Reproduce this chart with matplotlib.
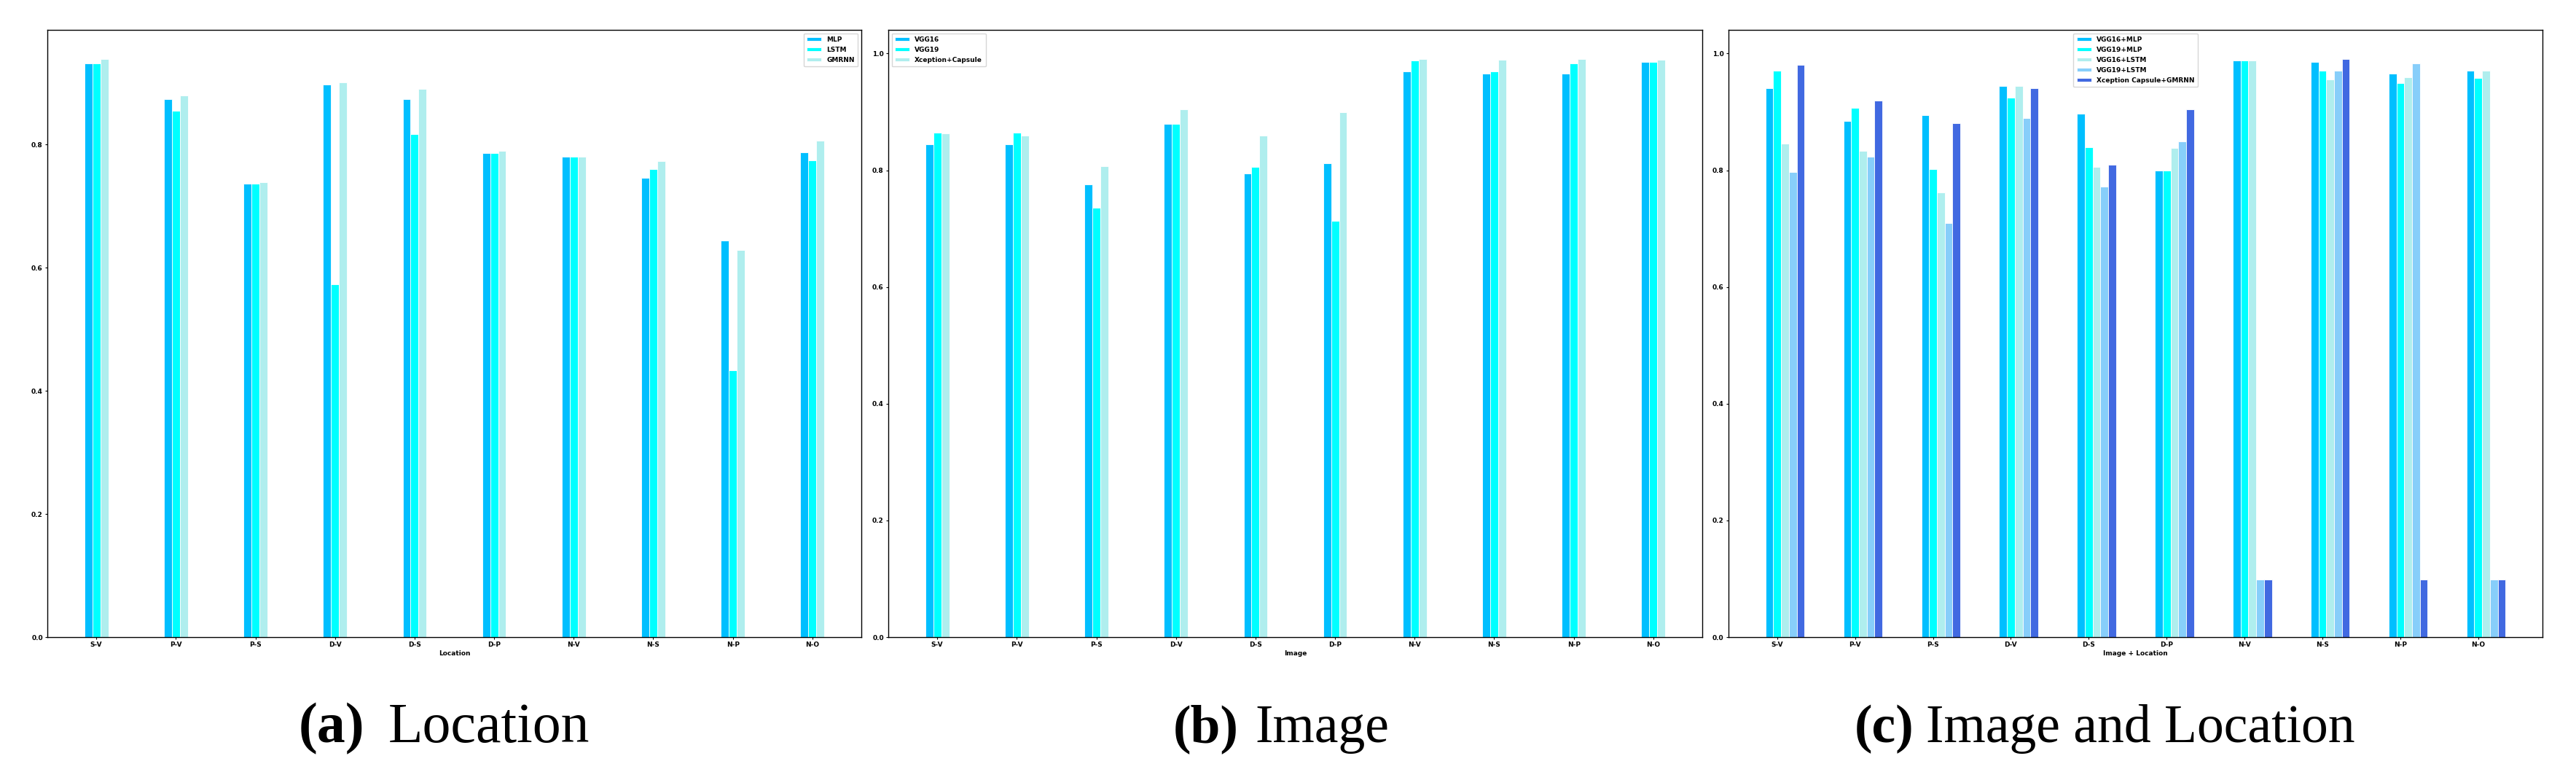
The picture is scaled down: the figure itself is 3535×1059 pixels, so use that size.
import matplotlib.pyplot as plt
import numpy as np

# pair labels shared by all three panels
pairs = ['S-V', 'P-V', 'P-S', 'D-V', 'D-S', 'D-P', 'N-V', 'N-S', 'N-P', 'N-O']

# (a) location only
loc_names = ['MLP', 'LSTM', 'GMRNN']
loc_mlp = [0.932, 0.873, 0.736, 0.897, 0.873, 0.786, 0.780, 0.746, 0.644, 0.787]
loc_lstm = [0.932, 0.854, 0.736, 0.573, 0.817, 0.786, 0.780, 0.760, 0.433, 0.774]
loc_gmrnn = [0.939, 0.880, 0.739, 0.901, 0.890, 0.790, 0.780, 0.773, 0.629, 0.806]

# (b) image only
img_names = ['VGG16', 'VGG19', 'Xception+Capsule']
img_vgg16 = [0.845, 0.844, 0.776, 0.879, 0.795, 0.812, 0.969, 0.966, 0.966, 0.985]
img_vgg19 = [0.865, 0.864, 0.736, 0.879, 0.806, 0.713, 0.988, 0.969, 0.983, 0.985]
img_xcap = [0.863, 0.860, 0.807, 0.904, 0.860, 0.900, 0.991, 0.989, 0.990, 0.989]

# (c) image + location
both_names = ['VGG16+MLP', 'VGG19+MLP', 'VGG16+LSTM', 'VGG19+LSTM', 'Xception Capsule+GMRNN']
both_vgg16_mlp = [0.941, 0.885, 0.894, 0.944, 0.897, 0.800, 0.988, 0.985, 0.966, 0.971]
both_vgg19_mlp = [0.971, 0.907, 0.802, 0.925, 0.840, 0.800, 0.988, 0.971, 0.949, 0.958]
both_vgg16_lstm = [0.846, 0.833, 0.762, 0.944, 0.806, 0.838, 0.988, 0.955, 0.959, 0.971]
both_vgg19_lstm = [0.797, 0.823, 0.710, 0.889, 0.772, 0.850, 0.099, 0.971, 0.983, 0.099]
both_xcap_gmrnn = [0.980, 0.920, 0.881, 0.940, 0.810, 0.905, 0.099, 0.991, 0.099, 0.099]

colors = ['deepskyblue', 'aqua', 'paleturquoise', 'lightskyblue', 'royalblue']

W, H = 3535, 1059
fig = plt.figure(figsize=(W / 100, H / 100), dpi=100)
plt.rcParams['font.family'] = 'DejaVu Sans'


def draw_panel(left_px, series, names, xlabel, legend_loc):
    ax = fig.add_axes([left_px / W, (H - 874) / H, 1117 / W, 833 / H])
    x = np.arange(len(pairs))
    width = 0.1
    for i, (vals, name) in enumerate(zip(series, names)):
        ax.bar(x + (i - 1) * width, vals, width, color=colors[i], label=name,
               edgecolor='white', linewidth=0.6)
    ax.set_xticks(x)
    ax.set_xticklabels(pairs)
    ax.set_xlabel(xlabel, fontsize=6.5, fontweight='bold', labelpad=2)
    ax.tick_params(labelsize=6.5, length=2.5, pad=2, width=0.8)
    for lab in ax.get_xticklabels() + ax.get_yticklabels():
        lab.set_fontweight('bold')
    for s in ax.spines.values():
        s.set_linewidth(1.0)
    ax.legend(loc=legend_loc, prop={'size': 6.5, 'weight': 'bold'},
              handlelength=2.2, handleheight=0.5, labelspacing=0.55,
              borderpad=0.5, framealpha=0.8)
    return ax


draw_panel(65, [loc_mlp, loc_lstm, loc_gmrnn], loc_names, 'Location', 'upper right')
draw_panel(1219, [img_vgg16, img_vgg19, img_xcap], img_names, 'Image', 'upper left')
draw_panel(2372, [both_vgg16_mlp, both_vgg19_mlp, both_vgg16_lstm, both_vgg19_lstm,
                  both_xcap_gmrnn], both_names, 'Image + Location', 'upper center')

# subfigure captions: bold tag, then the plain title
y_cap = (H - 1018) / H
captions = [
    ('(a)', 'Location', 410, 533, 56),
    ('(b)', 'Image', 1610, 1722, 53),
    ('(c)', 'Image and Location', 2545, 2643, 53),
]
for tag, title, x_tag, x_title, size in captions:
    fig.text(x_tag / W, y_cap, tag, fontsize=size, fontweight='bold',
             family='Liberation Serif', ha='left', va='baseline')
    fig.text(x_title / W, y_cap, title, fontsize=size,
             family='Liberation Serif', ha='left', va='baseline')

fig.savefig('out.png', dpi=100)
